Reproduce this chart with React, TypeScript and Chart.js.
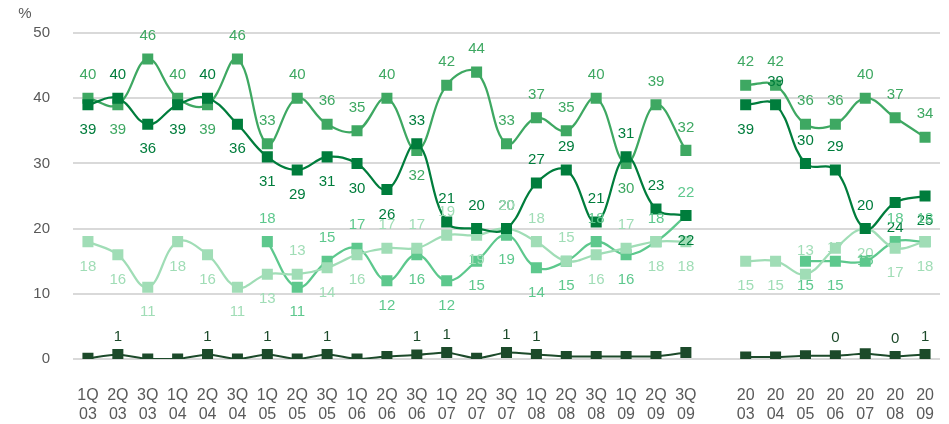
import React, { useEffect, useRef } from "react";
import { Chart, registerables } from "chart.js";

Chart.register(...registerables);

const CATEGORIES: string[][] = [
  ["1Q", "03"], ["2Q", "03"], ["3Q", "03"],
  ["1Q", "04"], ["2Q", "04"], ["3Q", "04"],
  ["1Q", "05"], ["2Q", "05"], ["3Q", "05"],
  ["1Q", "06"], ["2Q", "06"], ["3Q", "06"],
  ["1Q", "07"], ["2Q", "07"], ["3Q", "07"],
  ["1Q", "08"], ["2Q", "08"], ["3Q", "08"],
  ["1Q", "09"], ["2Q", "09"], ["3Q", "09"],
  ["", ""],
  ["20", "03"], ["20", "04"], ["20", "05"], ["20", "06"], ["20", "07"], ["20", "08"], ["20", "09"],
];

const Y_TICKS = [0, 10, 20, 30, 40, 50];
const UNIT_LABEL = "%";

const SERIES_A = [39, 40, 36, 39, 40, 36, 31, 29, 31, 30, 26, 33, 21, 20, 20, 27, 29, 21, 31, 23, 22, null, 39, 39, 30, 29, 20, 24, 25];
const SERIES_B = [40, 39, 46, 40, 39, 46, 33, 40, 36, 35, 40, 32, 42, 44, 33, 37, 35, 40, 30, 39, 32, null, 42, 42, 36, 36, 40, 37, 34];
const SERIES_C = [null, null, null, null, null, null, 18, 11, 15, 17, 12, 16, 12, 15, 19, 14, 15, 18, 16, 18, 22, null, null, null, 15, 15, 15, 18, 18];
const SERIES_L = [18, 16, 11, 18, 16, 11, 13, 13, 14, 16, 17, 17, 19, 19, 20, 18, 15, 16, 17, 18, 18, null, 15, 15, 13, 17, 20, 17, 18];
const SERIES_D = [0.1, 0.7, 0, 0, 0.7, 0, 0.7, 0, 0.7, 0, 0.4, 0.6, 1.0, 0.1, 1.0, 0.7, 0.4, 0.4, 0.4, 0.4, 1.0, null, 0.3, 0.3, 0.5, 0.5, 0.8, 0.4, 0.7];
const D_LABELS = ["", "1", "", "", "1", "", "1", "", "1", "", "", "1", "1", "", "1", "1", "", "", "", "", "", "", "", "", "", "0", "", "0", "1"];

// label placement styles (u = above, d = below, c = on point, - = none)
const SIDE_A = "dudduddddddu" + "uuuuuuuud" + "-" + "duuuudd";
const SIDE_B = "uduudu" + "uuuuu" + "d" + "uuuuuu" + "d" + "uu" + "-" + "uuuuuuu";
const SIDE_C = "------" + "uduuddddddd" + "uduu" + "---" + "ddcuu";
const SIDE_L = "ddddddd" + "u" + "dd" + "uuu" + "d" + "uuu" + "d" + "u" + "dd" + "-" + "dduc" + "ddd";

const COLOR_A = "#007D3C";
const COLOR_B = "#3EA862";
const COLOR_C = "#5DC88D";
const COLOR_L = "#A0DDB6";
const COLOR_D = "#1C4A2A";

const FONT = "'Liberation Sans', Arial, sans-serif";

const labelPlugin = {
  id: "valueLabels",
  afterDatasetsDraw(chart: any) {
    const ctx = chart.ctx;
    ctx.save();
    ctx.textAlign = "center";
    ctx.textBaseline = "middle";
    ctx.font = `15px ${FONT}`;
    chart.data.datasets.forEach((ds: any, di: number) => {
      const meta = chart.getDatasetMeta(di);
      const sides: string | undefined = ds._sides;
      meta.data.forEach((pt: any, i: number) => {
        const v = ds.data[i];
        if (v === null || v === undefined) return;
        let text: string;
        let dy: number;
        if (ds._labels) {
          text = ds._labels[i];
          if (!text) return;
          dy = -18;
        } else {
          const s = sides ? sides[i] : "u";
          if (s === "-") return;
          text = String(Math.round(v));
          dy = s === "u" ? -23 : s === "d" ? 25 : 0;
        }
        ctx.fillStyle = ds._labelColor;
        ctx.fillText(text, pt.x, pt.y + dy);
      });
    });
    ctx.fillStyle = "#595959";
    ctx.font = `15px ${FONT}`;
    ctx.fillText(UNIT_LABEL, 25, 14);
    ctx.restore();
  },
};

function mk(label: string, data: any[], color: string, extra: any) {
  return {
    label,
    data,
    borderColor: color,
    backgroundColor: color,
    pointBackgroundColor: color,
    pointBorderWidth: 0,
    pointRadius: 7.8,
    pointHoverRadius: 7.8,
    pointStyle: "rect",
    borderWidth: 2.25,
    tension: 0.4,
    spanGaps: false,
    _labelColor: color,
    ...extra,
  };
}

export default function App() {
  const ref = useRef<HTMLCanvasElement | null>(null);
  useEffect(() => {
    if (!ref.current) return;
    const chart = new Chart(ref.current, {
      type: "line",
      data: {
        labels: CATEGORIES,
        datasets: [
          mk("D", SERIES_D, COLOR_D, { _labels: D_LABELS, tension: 0.2, borderWidth: 2 }),
          mk("A", SERIES_A, COLOR_A, { _sides: SIDE_A }),
          mk("B", SERIES_B, COLOR_B, { _sides: SIDE_B }),
          mk("L", SERIES_L, COLOR_L, { _sides: SIDE_L }),
          mk("C", SERIES_C, COLOR_C, { _sides: SIDE_C }),
        ] as any,
      },
      options: {
        animation: false,
        responsive: false,
        events: [],
        layout: { padding: { top: 33, right: 9, left: 0, bottom: 0 } },
        plugins: { legend: { display: false }, tooltip: { enabled: false } },
        scales: {
          x: {
            type: "category",
            offset: true,
            grid: { display: false },
            border: { display: false },
            ticks: {
              autoSkip: false,
              maxRotation: 0,
              minRotation: 0,
              color: "#595959",
              font: { family: FONT, size: 16 },
              padding: 19,
            },
            afterFit: (s: any) => {
              s.height = 65;
              s.paddingLeft = 0;
              s.paddingRight = 0;
            },
          },
          y: {
            min: 0,
            max: 50,
            afterBuildTicks: (s: any) => { s.ticks = Y_TICKS.map((v) => ({ value: v })); },
            grid: { color: "#D9D9D9", lineWidth: 2, drawTicks: false },
            border: { display: false },
            ticks: {
              color: "#595959",
              font: { family: FONT, size: 15 },
              padding: 23,
            },
            afterFit: (s: any) => { s.width = 73; },
          },
        },
      } as any,
      plugins: [labelPlugin],
    });
    return () => chart.destroy();
  }, []);
  return (
    <div style={{ position: "fixed", left: 0, top: 0, width: 949, height: 424, background: "#fff" }}>
      <canvas ref={ref} width={949} height={424} style={{ display: "block" }} />
    </div>
  );
}
